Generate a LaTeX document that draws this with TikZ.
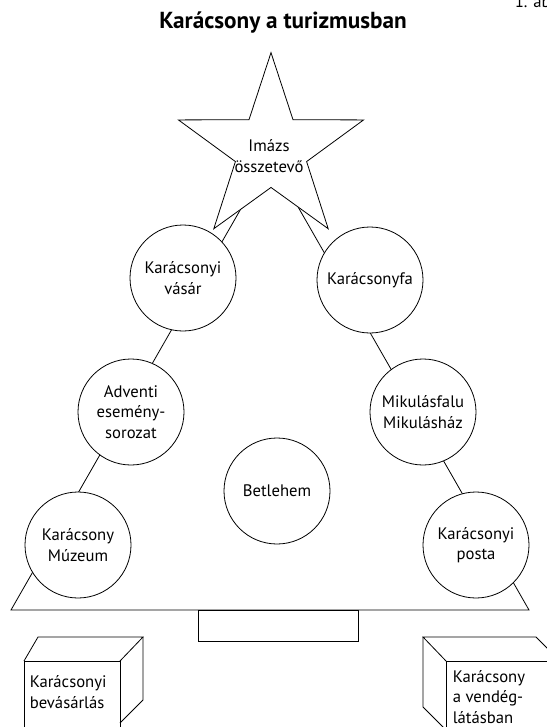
\documentclass[tikz,border=0pt]{standalone}
\usepackage{fontspec}
\setmainfont{PT Sans}
\usetikzlibrary{shapes.geometric}

\begin{document}
\begin{tikzpicture}[x=0.75pt,y=-0.75pt,line width=.6pt,
  ball/.style={circle,draw,fill=white,minimum size=79.5pt,inner sep=1pt,
    align=center,font=\fontsize{12.5}{15.5}\selectfont},
  boxtext/.style={anchor=west,align=left,font=\fontsize{12.5}{15.5}\selectfont}]
\useasboundingbox (0,0) rectangle (546,727);
\node[anchor=base,font=\bfseries\fontsize{17.4}{20}\selectfont] (title) at (283,29) {Karácsony a turizmusban};
\node[anchor=base west,font=\fontsize{12.5}{15.5}\selectfont] (abra) at (510,8) {1. ábra};
% tree
\coordinate (top) at (270,158);
\coordinate (left) at (11,610);
\coordinate (right) at (529,610);
\draw (top) -- (left) -- (right) -- cycle;
\draw (198,610) rectangle (358,641);
%\draw (top) -- (271,53);
\node[star,star points=5,star point ratio=2.6,minimum size=146pt,inner sep=0pt,draw,fill=white] (star) at (271,150) {};
\node[align=center,font=\fontsize{12.5}{15.5}\selectfont] (imazs) at (269,156) {Imázs\\összetevő};
\node[ball] (vasar) at (183,278) {Karácsonyi\\vásár};
\node[ball] (fa) at (370,280) {Karácsonyfa};
\node[ball] (advent) at (131,412) {Adventi\\esemény-\\sorozat};
\node[ball] (mikulas) at (423,412) {Mikulásfalu\\Mikulásház};
\node[ball] (betlehem) at (277,491) {Betlehem};
\node[ball] (muzeum) at (78,545) {Karácsony\\Múzeum};
\node[ball] (posta) at (476,545) {Karácsonyi\\posta};
% left box
\draw (24,730) -- (24,661) -- (120,661) -- (120,730);
\draw (24,661) -- (38,637) -- (143,637) -- (120,661);
\draw (143,637) -- (143,700) -- (120,723);
\node[boxtext] (bevasarlas) at (25,692) {Karácsonyi\\bevásárlás};
% right box
\draw (446,730) -- (446,661) -- (560,661);
\draw (446,661) -- (423,637) -- (536,637) -- (560,661);
\draw (423,637) -- (423,707) -- (446,730);
\node[boxtext] (vendeg) at (448,697) {Karácsony\\a vendég-\\látásban};
\end{tikzpicture}
\end{document}
